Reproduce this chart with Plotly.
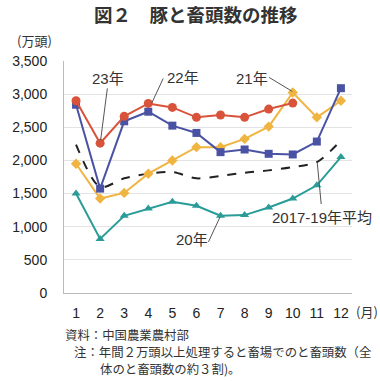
import plotly.graph_objects as go

months = list(range(1, 13))
month_labels = [str(m) for m in months]
y23 = [2900, 2260, 2665, 2860, 2800, 2650, 2685, 2650, 2775, 2865]
y22 = [2840, 1575, 2590, 2735, 2525, 2415, 2125, 2165, 2100, 2090, 2285, 3090]
y21 = [1950, 1425, 1510, 1800, 2000, 2200, 2200, 2325, 2510, 3025, 2650, 2900]
y20 = [1500, 815, 1165, 1275, 1375, 1315, 1165, 1175, 1290, 1425, 1625, 2050]
yavg = [2240, 1600, 1730, 1800, 1825, 1730, 1765, 1815, 1850, 1900, 1975, 2300]
ytick_vals = [0, 500, 1000, 1500, 2000, 2500, 3000, 3500]
ytick_text = ["0", "500", "1,000", "1,500", "2,000", "2,500", "3,000", "3,500"]

W, H = 380, 381
L, R, T, B = 53, 352, 60.5, 293.3

def px(x):
    return (x - L) / (R - L)

def py(y):
    return (B - y) / (B - T)

JP = "Noto Sans CJK JP"
NUM = "Liberation Sans, Noto Sans CJK JP"

fig = go.Figure()
fig.add_trace(go.Scatter(x=months, y=yavg, mode="lines", line=dict(color="#222222", width=2, dash="dash", shape="spline", smoothing=0.8)))
fig.add_trace(go.Scatter(x=months, y=y20, mode="lines+markers", line=dict(color="#2A9C98", width=2), marker=dict(symbol="triangle-up", size=8, color="#2A9C98")))
fig.add_trace(go.Scatter(x=months, y=y21, mode="lines+markers", line=dict(color="#F0B440", width=2), marker=dict(symbol="diamond", size=8, color="#F0B440")))
fig.add_trace(go.Scatter(x=months, y=y22, mode="lines+markers", line=dict(color="#4A53A3", width=2), marker=dict(symbol="square", size=8, color="#4A53A3")))
fig.add_trace(go.Scatter(x=months[:len(y23)], y=y23, mode="lines+markers", line=dict(color="#D9533B", width=2), marker=dict(symbol="circle", size=9, color="#D9533B")))

lead = dict(color="#555555", width=1)
shapes = []
for (x0, y0, x1, y1) in [(98, 88, 91, 140), (156, 78, 144, 103), (266, 77, 290, 91), (203, 242, 215, 217), (320, 204, 316, 163)]:
    shapes.append(dict(type="line", xref="paper", yref="paper", x0=px(x0), y0=py(y0), x1=px(x1), y1=py(y1), line=lead))

ann = []
def text(t, x, y, size, xanchor="center", family=JP, color="#333333"):
    ann.append(dict(text=t, x=px(x), y=py(y), xref="paper", yref="paper", showarrow=False,
                    xanchor=xanchor, yanchor="middle", font=dict(family=family, size=size, color=color)))

text("<b>図２　豚と畜頭数の推移</b>", 190, 13, 18.5)
text("(万頭)", 22, 40, 13)
text("(月)", 368, 312, 13)
text("23年", 99, 78, 15, family=NUM)
text("22年", 177, 77, 15, family=NUM)
text("21年", 248, 78, 15, family=NUM)
text("20年", 186, 240, 15, family=NUM)
text("2017-19年平均", 321, 218, 15, family=NUM)
text("資料：中国農業農村部", 52, 335, 12.4, xanchor="left")
text("注：年間２万頭以上処理すると畜場でのと畜頭数（全", 61, 352.5, 12.4, xanchor="left")
text("体のと畜頭数の約３割)。", 88, 370, 12.4, xanchor="left")

fig.update_layout(
    width=W, height=H, showlegend=False,
    margin=dict(l=L, r=W - R, t=T, b=H - B, pad=0),
    paper_bgcolor="white", plot_bgcolor="white",
    shapes=shapes, annotations=ann,
    xaxis=dict(range=[0.5, 12.46], tickvals=months, ticktext=month_labels, showgrid=False,
               showline=True, linecolor="#BBBBBB", linewidth=1, ticks="", zeroline=False,
               tickfont=dict(family=NUM, size=14, color="#222222"), ticklabelstandoff=7),
    yaxis=dict(range=[0, 3500], tickvals=ytick_vals, ticktext=ytick_text, showgrid=True,
               gridcolor="#E3E3E3", gridwidth=1, showline=True, linecolor="#BBBBBB", linewidth=1,
               ticks="", zeroline=False, tickfont=dict(family=NUM, size=14, color="#222222"),
               ticklabelstandoff=13),
)
fig.write_html("out.html", config={"displayModeBar": False},
               post_script="document.body.style.margin='0';document.body.style.overflow='hidden';")
